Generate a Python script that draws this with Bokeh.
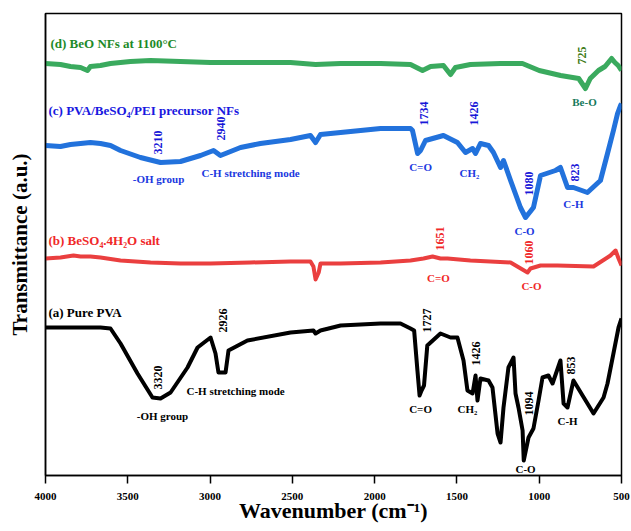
import math
from bokeh.plotting import figure
from bokeh.models import Range1d, FixedTicker, Label
from bokeh.embed import file_html
from bokeh.resources import INLINE

# ---------------- data (wavenumber cm-1, transmittance a.u.) ----------------
wn_d = [4000, 3909, 3848, 3787, 3745, 3727, 3666, 3605, 3484, 3362, 3180, 2997, 2754, 2511, 2359, 2207,
        1964, 1782, 1709, 1660, 1582, 1539, 1509, 1418, 1235, 1102, 1000, 870, 760, 719, 690, 640, 600,
        580, 560, 540, 520, 500]
t_d = [412, 411, 409, 408, 405, 409, 410, 412, 414, 415, 414, 413, 413, 413, 411, 412,
       412, 411, 405, 409, 410, 401, 408, 411, 412, 412, 405, 400, 397, 387, 397, 405, 409,
       413, 417, 413, 410, 405]

wn_c = [4000, 3909, 3848, 3787, 3727, 3666, 3605, 3544, 3423, 3301, 3180, 3058, 2979, 2937, 2906, 2815,
        2694, 2511, 2390, 2359, 2329, 2207, 1964, 1782, 1770, 1739, 1721, 1691, 1582, 1497, 1448, 1405,
        1387, 1357, 1308, 1278, 1235, 1217, 1174, 1114, 1083, 1035, 992, 901, 871, 828, 792, 707, 628,
        585, 549, 524, 506, 500]
t_c = [330, 329, 331, 332, 333, 332, 330, 325, 318, 313, 314, 320, 325, 320, 322, 328,
       332, 336, 340, 333, 341, 343, 347, 347, 345, 322, 325, 335, 340, 333, 323, 327,
       322, 332, 330, 323, 308, 315, 295, 268, 258, 268, 300, 305, 308, 288, 288, 283, 295,
       322, 345, 362, 370, 372]

wn_b = [4000, 3909, 3830, 3787, 3727, 3666, 3544, 3362, 3180, 2997, 2754, 2511, 2390, 2372, 2359, 2340,
        2329, 2207, 1964, 1782, 1703, 1648, 1600, 1557, 1418, 1174, 1071, 1053, 992, 889, 670, 567,
        536, 518, 500]
t_b = [217, 218, 220, 219, 219, 218, 215, 213, 212, 212, 213, 214, 214, 209, 196, 203,
       212, 212, 213, 215, 217, 219, 217, 217, 215, 213, 203, 207, 210, 210, 209, 220,
       225, 217, 210]

wn_a = [4000, 3787, 3666, 3605, 3544, 3441, 3350, 3301, 3240, 3137, 3076, 2997, 2967, 2949, 2906, 2888,
        2773, 2511, 2372, 2359, 2329, 2207, 1964, 1843, 1782, 1760, 1740, 1727, 1715, 1700, 1680, 1600,
        1539, 1497, 1460, 1436, 1405, 1387, 1375, 1357, 1308, 1284, 1253, 1235, 1217, 1187, 1156, 1144,
        1126, 1101, 1094, 1065, 1035, 1004, 980, 944, 919, 871, 852, 828, 792, 670, 609, 585, 549,
        518, 500]
t_a = [148, 148, 148, 147, 132, 102, 78, 77, 83, 108, 128, 138, 122, 103, 103, 125,
       135, 143, 145, 142, 145, 150, 152, 152, 147, 145, 105, 80, 85, 90, 130, 142,
       138, 138, 115, 85, 82, 100, 75, 97, 95, 88, 42, 33, 68, 108, 118, 82,
       68, 45, 15, 38, 47, 75, 98, 100, 92, 115, 72, 68, 95, 62, 78, 92, 122,
       148, 157]

x_ticks = [4000, 3500, 3000, 2500, 2000, 1500, 1000, 500]

# ---------------- figure ----------------
FONT = "Liberation Serif"
p = figure(width=631, height=531, output_backend="svg", toolbar_location=None,
           x_range=Range1d(4000, 500), y_range=Range1d(0, 462),
           min_border_left=45, min_border_right=10, min_border_top=13, min_border_bottom=56)
p.background_fill_color = "white"
p.border_fill_color = "white"
p.outline_line_color = "black"
p.outline_line_width = 1.5
p.xgrid.visible = False
p.ygrid.visible = False

xa = p.xaxis[0]
xa.ticker = FixedTicker(ticks=x_ticks)
xa.major_tick_out = 8
xa.major_tick_in = 0
xa.minor_tick_line_color = None
xa.axis_line_width = 1.5
xa.axis_line_color = "black"
xa.major_tick_line_color = "black"
xa.major_tick_line_width = 1.5
xa.major_label_text_font = FONT
xa.major_label_text_font_style = "bold"
xa.major_label_text_font_size = "11px"
xa.major_label_text_color = "black"
xa.major_label_standoff = 9
xa.axis_label = "Wavenumber (cm\u207b\u00b9)"
xa.axis_label_text_font = FONT
xa.axis_label_text_font_style = "bold"
xa.axis_label_text_font_size = "22px"
xa.axis_label_text_color = "black"
xa.axis_label_standoff = -5

ya = p.yaxis[0]
ya.ticker = FixedTicker(ticks=[])
ya.major_tick_line_color = None
ya.minor_tick_line_color = None
ya.axis_line_width = 1.5
ya.axis_line_color = "black"
ya.axis_label = "Transmittance (a.u.)"
ya.axis_label_text_font = FONT
ya.axis_label_text_font_style = "bold"
ya.axis_label_text_font_size = "21px"
ya.axis_label_text_color = "black"
ya.axis_label_standoff = 14

# curves
p.line(wn_d, t_d, line_color="#3aaa5e", line_width=5, line_join="round")
p.line(wn_c, t_c, line_color="#2272dc", line_width=5, line_join="round")
p.line(wn_b, t_b, line_color="#ea3f3f", line_width=4, line_join="round")
p.line(wn_a, t_a, line_color="black", line_width=4, line_join="round")

# annotations: (x, y, text, color, rotated, size, align)
ann = [
    (3970, 432, "(d) BeO NFs at 1100°C", "#1e8a28", False, "13px", "left"),
    (743, 420, "725", "#3c7a14", True, "12px", "center"),
    (725, 374, "Be-O", "#167a5c", False, "11px", "center"),

    (3982, 365, "(c) PVA/BeSO\u2084/PEI precursor NFs", "#1818e0", False, "13px", "left"),
    (3319, 333, "3210", "#1818d8", True, "12px", "center"),
    (2931, 347, "2940", "#1818d8", True, "12px", "center"),
    (3313, 297, "-OH group", "#2038e0", False, "11px", "center"),
    (2754, 303, "C-H stretching mode", "#2038e0", False, "11px", "center"),
    (1703, 362, "1734", "#1818d8", True, "12px", "center"),
    (1399, 362, "1426", "#1818d8", True, "12px", "center"),
    (1721, 309, "C=O", "#2038e0", False, "11px", "center"),
    (1424, 303, "CH\u2082", "#2038e0", False, "11px", "center"),
    (1065, 292, "1080", "#1818d8", True, "12px", "center"),
    (1089, 245, "C-O", "#2038e0", False, "11px", "center"),
    (780, 303, "823", "#1818d8", True, "12px", "center"),
    (792, 272, "C-H", "#2038e0", False, "11px", "center"),

    (3982, 235, "(b) BeSO\u2084.4H\u2082O salt", "#f02828", False, "13px", "left"),
    (1600, 237, "1651", "#f02828", True, "12px", "center"),
    (1065, 223, "1060", "#f02828", True, "12px", "center"),
    (1612, 198, "C=O", "#f02828", False, "11px", "center"),
    (1047, 190, "C-O", "#f02828", False, "11px", "center"),

    (3982, 163, "(a) Pure PVA", "black", False, "13px", "left"),
    (2924, 155, "2926", "black", True, "12px", "center"),
    (3319, 98, "3320", "black", True, "12px", "center"),
    (3289, 60, "-OH group", "black", False, "11px", "center"),
    (2845, 85, "C-H stretching mode", "black", False, "11px", "center"),
    (1679, 155, "1727", "black", True, "12px", "center"),
    (1721, 67, "C=O", "black", False, "11px", "center"),
    (1387, 122, "1426", "black", True, "12px", "center"),
    (1436, 67, "CH\u2082", "black", False, "11px", "center"),
    (1065, 72, "1094", "black", True, "12px", "center"),
    (1083, 7, "C-O", "black", False, "11px", "center"),
    (804, 110, "853", "black", True, "12px", "center"),
    (828, 55, "C-H", "black", False, "11px", "center"),
]
for x, y, t, c, rot, sz, al in ann:
    p.add_layout(Label(x=x, y=y, text=t, text_color=c, text_font=FONT, text_font_style="bold",
                       text_font_size=sz, text_align=al, text_baseline="middle",
                       angle=(math.pi / 2 if rot else 0)))

open("out.html", "w").write(file_html(p, INLINE))
